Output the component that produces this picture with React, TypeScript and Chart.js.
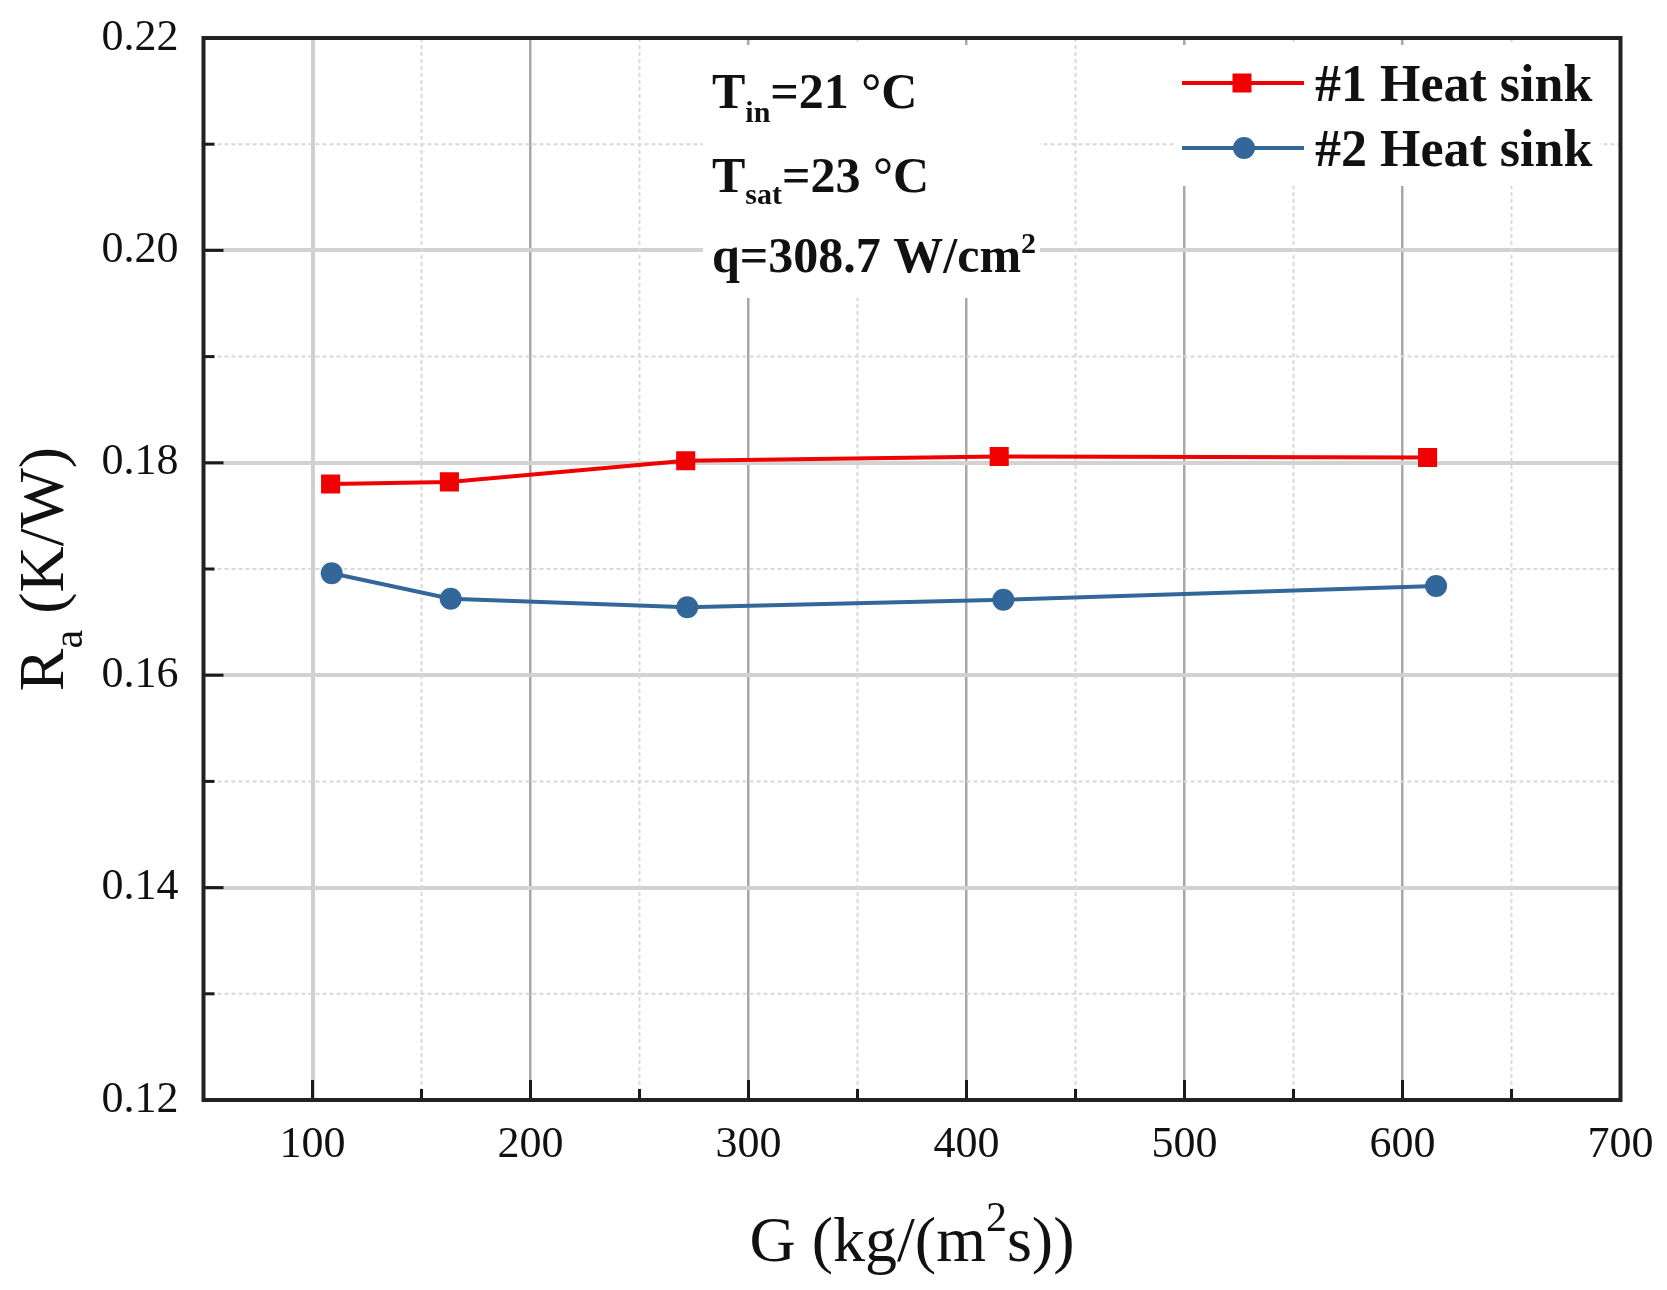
import React, { useEffect, useRef } from "react";
import { Chart, registerables } from "chart.js";

Chart.register(...registerables);

// ---- data ----
const xTicks = [100, 200, 300, 400, 500, 600, 700];
const xMinor = [150, 250, 350, 450, 550, 650];
const yTicks = [0.12, 0.14, 0.16, 0.18, 0.2, 0.22];
const yMinor = [0.13, 0.15, 0.17, 0.19, 0.21];
const seriesNames = ["#1 Heat sink", "#2 Heat sink"];
const g1 = [108.3, 162.8, 271.2, 415.0, 611.5];
const r1 = [0.178, 0.1782, 0.1802, 0.1806, 0.1805];
const g2 = [108.8, 163.4, 271.9, 416.9, 615.4];
const r2 = [0.1696, 0.1672, 0.1664, 0.1671, 0.1684];

const RED = "#f00000";
const BLUE = "#336699";
const SERIF = "'Liberation Serif', 'Times New Roman', serif";

type Run = [string, string, number];

function runsWidth(ctx: CanvasRenderingContext2D, runs: Run[]) {
  let w = 0;
  for (const [t, f] of runs) {
    ctx.font = f;
    w += ctx.measureText(t).width;
  }
  return w;
}

function drawRuns(ctx: CanvasRenderingContext2D, x: number, y: number, runs: Run[]) {
  let cx = x;
  for (const [t, f, dy] of runs) {
    ctx.font = f;
    ctx.fillText(t, cx, y + dy);
    cx += ctx.measureText(t).width;
  }
}

const decor = {
  id: "decor",
  beforeDatasetsDraw(chart: any) {
    const { ctx, chartArea: ca, scales } = chart;
    const x = scales.x;
    const y = scales.y;
    ctx.save();
    ctx.beginPath();
    ctx.rect(ca.left, ca.top, ca.right - ca.left, ca.bottom - ca.top);
    ctx.clip();
    ctx.setLineDash([4, 3]);
    ctx.lineWidth = 2;
    ctx.strokeStyle = "#d8d8d8";
    for (const v of xMinor) {
      const px = x.getPixelForValue(v);
      ctx.beginPath();
      ctx.moveTo(px, ca.top);
      ctx.lineTo(px, ca.bottom);
      ctx.stroke();
    }
    for (const v of yMinor) {
      const py = y.getPixelForValue(v);
      ctx.beginPath();
      ctx.moveTo(ca.left, py);
      ctx.lineTo(ca.right, py);
      ctx.stroke();
    }
    ctx.setLineDash([]);
    // white backgrounds behind legend and annotation
    ctx.fillStyle = "#ffffff";
    ctx.fillRect(1176, 45, 424, 141);
    ctx.fillRect(703, 45, 337, 253);
    ctx.restore();
  },
  afterDraw(chart: any) {
    const { ctx, chartArea: ca, scales } = chart;
    const x = scales.x;
    const y = scales.y;
    ctx.save();
    // inward tick marks
    ctx.strokeStyle = "#1a1a1a";
    ctx.lineWidth = 3;
    for (const v of xTicks) {
      const px = x.getPixelForValue(v);
      ctx.beginPath();
      ctx.moveTo(px, ca.bottom);
      ctx.lineTo(px, ca.bottom - 20);
      ctx.stroke();
    }
    for (const v of xMinor) {
      const px = x.getPixelForValue(v);
      ctx.beginPath();
      ctx.moveTo(px, ca.bottom);
      ctx.lineTo(px, ca.bottom - 11);
      ctx.stroke();
    }
    for (const v of yTicks) {
      const py = y.getPixelForValue(v);
      ctx.beginPath();
      ctx.moveTo(ca.left, py);
      ctx.lineTo(ca.left + 20, py);
      ctx.stroke();
    }
    for (const v of yMinor) {
      const py = y.getPixelForValue(v);
      ctx.beginPath();
      ctx.moveTo(ca.left, py);
      ctx.lineTo(ca.left + 11, py);
      ctx.stroke();
    }
    // frame
    ctx.strokeStyle = "#222222";
    ctx.lineWidth = 4;
    ctx.strokeRect(ca.left, ca.top, ca.right - ca.left, ca.bottom - ca.top);

    ctx.fillStyle = "#111111";
    ctx.textAlign = "left";
    ctx.textBaseline = "alphabetic";

    // annotation
    const B50 = `bold 50px ${SERIF}`;
    const B30 = `bold 30px ${SERIF}`;
    drawRuns(ctx, 712, 108, [["T", B50, 0], ["in", B30, 14], ["=21 \u00B0C", B50, 0]]);
    drawRuns(ctx, 712, 192, [["T", B50, 0], ["sat", B30, 12], ["=23 \u00B0C", B50, 0]]);
    drawRuns(ctx, 712, 272, [["q=308.7 W/cm", B50, 0], ["2", B30, -19]]);

    // legend
    const ds = chart.data.datasets;
    const rows = [83, 148];
    ds.forEach((d: any, i: number) => {
      const cy = rows[i];
      ctx.strokeStyle = d.borderColor;
      ctx.lineWidth = 4;
      ctx.beginPath();
      ctx.moveTo(1182, cy);
      ctx.lineTo(1304, cy);
      ctx.stroke();
      ctx.fillStyle = d.pointBackgroundColor;
      if (d.pointStyle === "rect") {
        ctx.fillRect(1242 - 9.5, cy - 9.5, 19, 19);
      } else {
        ctx.beginPath();
        ctx.arc(1244, cy, 11, 0, Math.PI * 2);
        ctx.fill();
      }
      ctx.fillStyle = "#111111";
      ctx.font = `bold 52px ${SERIF}`;
      ctx.fillText(d.label, 1315, cy + 18);
    });

    // x title
    const R64 = `64px ${SERIF}`;
    const R42 = `42px ${SERIF}`;
    const xRuns: Run[] = [["G (kg/(m", R64, 0], ["2", R42, -30], ["s))", R64, 0]];
    const xw = runsWidth(ctx, xRuns);
    const xc = (ca.left + ca.right) / 2;
    drawRuns(ctx, xc - xw / 2, 1261, xRuns);

    // y title
    const yRuns: Run[] = [["R", R64, 0], ["a", R42, 19], [" (K/W)", R64, 0]];
    const yw = runsWidth(ctx, yRuns);
    const yc = (ca.top + ca.bottom) / 2;
    ctx.translate(63, yc);
    ctx.rotate(-Math.PI / 2);
    drawRuns(ctx, -yw / 2, 0, yRuns);
    ctx.restore();
  },
};

export default function App() {
  const ref = useRef<HTMLCanvasElement | null>(null);
  useEffect(() => {
    document.body.style.margin = "0";
    if (!ref.current) return;
    const chart = new Chart(ref.current, {
      type: "line",
      data: {
        datasets: [
          {
            label: seriesNames[0],
            data: g1.map((g, i) => ({ x: g, y: r1[i] })),
            borderColor: RED,
            backgroundColor: RED,
            pointBackgroundColor: RED,
            pointBorderWidth: 0,
            pointStyle: "rect",
            pointRadius: 13.5,
            borderWidth: 4,
            tension: 0,
          },
          {
            label: seriesNames[1],
            data: g2.map((g, i) => ({ x: g, y: r2[i] })),
            borderColor: BLUE,
            backgroundColor: BLUE,
            pointBackgroundColor: BLUE,
            pointBorderWidth: 0,
            pointStyle: "circle",
            pointRadius: 11,
            borderWidth: 4,
            tension: 0,
          },
        ],
      },
      options: {
        animation: false,
        responsive: true,
        maintainAspectRatio: false,
        layout: { padding: { top: 38, right: 46.5, left: 0, bottom: 0 } },
        plugins: {
          legend: { display: false },
          tooltip: { enabled: false },
        },
        scales: {
          x: {
            type: "linear",
            min: 50,
            max: 700,
            afterBuildTicks: (s: any) => {
              s.ticks = xTicks.map((v) => ({ value: v }));
            },
            afterFit: (s: any) => {
              s.height = 190;
              s.paddingLeft = 0;
              s.paddingRight = 0;
            },
            border: { display: false },
            grid: {
              drawTicks: false,
              color: (c: any) => (c.tick && c.tick.value === 100 ? "#cfcfcf" : "#a8a8a8"),
              lineWidth: (c: any) => (c.tick && c.tick.value === 100 ? 4 : 2.5),
            },
            ticks: {
              padding: 19,
              maxRotation: 0,
              color: "#111111",
              font: { family: SERIF, size: 44 },
              callback: (v: any) => String(v),
            },
          },
          y: {
            type: "linear",
            min: 0.12,
            max: 0.22,
            afterBuildTicks: (s: any) => {
              s.ticks = yTicks.map((v) => ({ value: v }));
            },
            afterFit: (s: any) => {
              s.width = 203.5;
              s.paddingTop = 0;
              s.paddingBottom = 0;
            },
            border: { display: false },
            grid: {
              drawTicks: false,
              color: "#d2d2d2",
              lineWidth: 4,
            },
            ticks: {
              padding: 25,
              color: "#111111",
              font: { family: SERIF, size: 44 },
              callback: (v: any) => Number(v).toFixed(2),
            },
          },
        },
      },
      plugins: [decor],
    } as any);
    return () => chart.destroy();
  }, []);
  return (
    <div style={{ width: 1667, height: 1290, position: "relative", background: "#fff" }}>
      <canvas ref={ref} style={{ display: "block" }} />
    </div>
  );
}
